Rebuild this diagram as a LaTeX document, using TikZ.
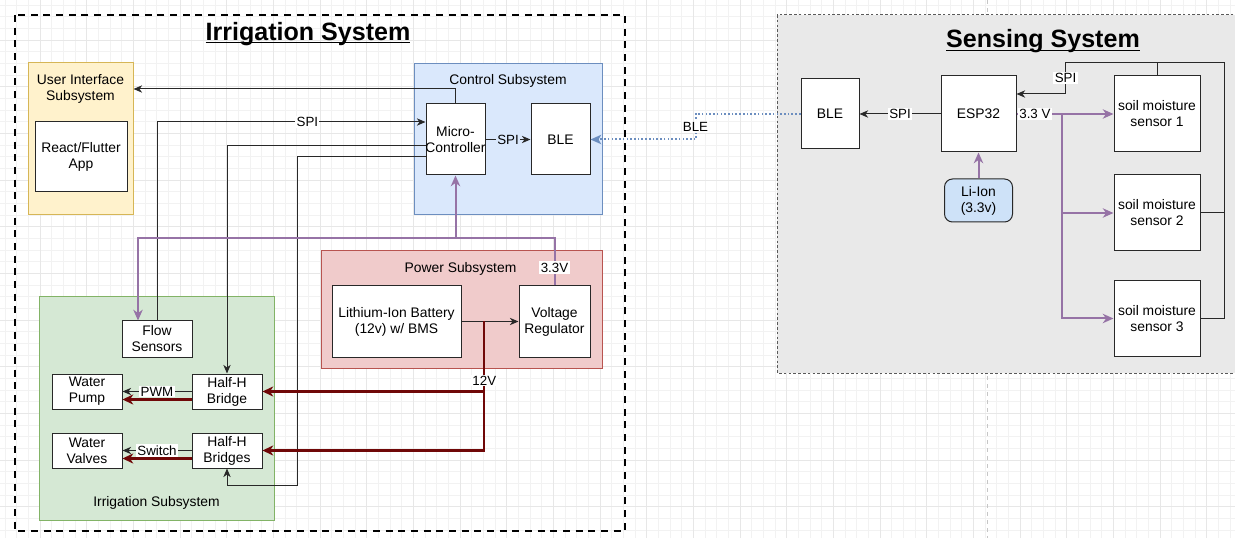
\documentclass[tikz,border=0pt]{standalone}
\usepackage{fontspec}
\setmainfont{Liberation Sans}
\usepackage{tikz}
\usetikzlibrary{arrows.meta,calc}
\definecolor{BoxLine}{RGB}{40,40,40}
\definecolor{UiFill} {HTML}{FFF2CC}
\definecolor{UiLine} {HTML}{D6B656}
\definecolor{CtlFill}{HTML}{DAE8FC}
\definecolor{CtlLine}{HTML}{6C8EBF}
\definecolor{PwrFill}{HTML}{F0CBCB}
\definecolor{PwrLine}{HTML}{B85450}
\definecolor{IrrFill}{HTML}{D5E8D4}
\definecolor{IrrLine}{HTML}{82B366}
\definecolor{SenFill}{RGB}{233,233,233}
\definecolor{LiFill} {RGB}{206,226,248}
\definecolor{VddLine}{HTML}{9673A6}
\definecolor{PwrWire}{RGB}{112,8,8}
\newcommand{\fsz}{\fontsize{10.4}{12}\selectfont}
\tikzset{
  nd_blk/.style={
    rectangle, draw=BoxLine, fill=white, line width=0.75pt,
    align=center, font=\fsz, inner sep=1pt},
  nd_li/.style={
    nd_blk, fill=LiFill, rounded corners=6pt},
  nd_sub/.style={
    rectangle, line width=0.75pt, inner sep=0pt},
  sub_ui/.style={nd_sub, draw=UiLine, fill=UiFill},
  sub_ctl/.style={nd_sub, draw=CtlLine, fill=CtlFill},
  sub_pwr/.style={nd_sub, draw=PwrLine, fill=PwrFill},
  sub_irr/.style={nd_sub, draw=IrrLine, fill=IrrFill},
  subttl/.style={font=\fsz, align=center, inner sep=1pt},
  ttl/.style={font=\fontsize{18.8}{22}\selectfont\bfseries, anchor=base},
  arr/.style={-{Stealth[length=6.5pt,width=5.5pt,inset=2pt]}, line width=0.75pt, BoxLine},
  arr_pwr/.style={-{Stealth[length=8pt,width=7.5pt,inset=2.4pt]}, line width=1.6pt, PwrWire},
  arr_v33/.style={-{Stealth[length=8pt,width=7pt,inset=2.4pt]}, line width=1.5pt, VddLine},
  arr_ble/.style={-{Stealth[length=8pt,width=7pt,inset=2pt]}, line width=1.5pt, CtlLine,
    dash pattern=on 1.2pt off 1.6pt},
  lbl/.style={font=\fontsize{10}{12}\selectfont, text=black, fill=white, inner sep=1pt},
  grid_mn/.style={gray!10, line width=0.4pt},
  grid_mj/.style={gray!19, line width=0.5pt},
}

\begin{document}
\begin{tikzpicture}[x=0.75pt,y=-0.75pt]
\useasboundingbox (0,0) rectangle (1235,538);
\clip (0,0) rectangle (1235,538);
\fill[white] (0,0) rectangle (1235,538);

%% background grid
\foreach \gx in {5,16.667,...,1235} \draw[grid_mn] (\gx,0) -- (\gx,538);
\foreach \gy in {5,16.667,...,538} \draw[grid_mn] (0,\gy) -- (1235,\gy);
\foreach \gx in {40,86.667,...,1235} \draw[grid_mj] (\gx,0) -- (\gx,538);
\foreach \gy in {40,86.667,...,538} \draw[grid_mj] (0,\gy) -- (1235,\gy);
\draw[gray!45, line width=0.6pt, dash pattern=on 3pt off 3pt] (987,0) -- (987,538);

%% Irrigation System
\draw[line width=1.5pt, dash pattern=on 5.3pt off 4.2pt] (15,15) rectangle (625,531);
\node[ttl] (TIrr) at (308,40.5) {\underline{\smash{Irrigation System}}};

\node[sub_ui, minimum width=78.75pt, minimum height=114pt] (UIS) at (80.5,139) {};
\node[subttl] (UIT) at ($(UIS.north)+(0,26)$) {User Interface\\Subsystem};
\node[nd_blk, minimum width=69pt, minimum height=52.5pt] (RA) at (81,157) {React/Flutter\\App};

\node[sub_ctl, minimum width=141pt, minimum height=113.25pt] (CS) at (508,139.5) {};
\node[subttl] (CST) at ($(CS.north)+(0,17)$) {Control Subsystem};
\node[nd_blk, minimum width=44.25pt, minimum height=53.25pt] (MC) at (455.5,139.5) {Micro-\\\makebox[0pt]{Controller}};
\node[nd_blk, minimum width=44.25pt, minimum height=53.25pt] (BLEc) at (560.5,139.5) {BLE};

\node[sub_pwr, minimum width=210.75pt, minimum height=87.75pt] (PS) at (461.5,309.5) {};
\node[subttl] (PST) at ($(PS.north)+(-1,18)$) {Power Subsystem};
\node[nd_blk, minimum width=96.75pt, minimum height=53.25pt] (BAT) at (396.5,321.5) {Lithium-Ion Battery\\(12v) w/ BMS};
\node[nd_blk, minimum width=53.25pt, minimum height=53.25pt] (VR) at (554.5,321.5) {Voltage\\Regulator};

\node[sub_irr, minimum width=176.25pt, minimum height=167.25pt] (IS) at (156.5,408.5) {};
\node[subttl] (IST) at ($(IS.south)+(0,-18)$) {Irrigation Subsystem};
\node[nd_blk, minimum width=52.5pt, minimum height=27pt] (FS) at (157,339) {Flow\\Sensors};
\node[nd_blk, minimum width=52.5pt, minimum height=26.25pt] (WP) at (87,391.5) {Water\\Pump};
\node[nd_blk, minimum width=52.5pt, minimum height=26.25pt] (HB1) at (227,391.5) {Half-H\\Bridge};
\node[nd_blk, minimum width=52.5pt, minimum height=26.25pt] (WV) at (87,450.5) {Water\\Valves};
\node[nd_blk, minimum width=52.5pt, minimum height=26.25pt] (HB2) at (227,450.5) {Half-H\\Bridges};

%% Sensing System
\draw[gray!70!black, fill=SenFill, line width=0.75pt, dash pattern=on 2pt off 1.6pt] (777,15) rectangle (1240,373);
\node[ttl] (TSen) at (1043,48) {\underline{\smash{Sensing System}}};
\node[nd_blk, minimum width=43.5pt, minimum height=52.5pt] (BLEs) at (830,114) {BLE};
\node[nd_blk, minimum width=56.25pt, minimum height=57pt] (ESP) at (978.5,114) {ESP32};
\node[nd_li, minimum width=51pt, minimum height=32.25pt] (LI) at (978.5,200.5) {Li-Ion\\(3.3v)};
\node[nd_blk, minimum width=64.5pt, minimum height=57pt] (SM1) at (1157,114) {soil moisture\\sensor 1};
\node[nd_blk, minimum width=64.5pt, minimum height=57pt] (SM2) at (1157,213) {soil moisture\\sensor 2};
\node[nd_blk, minimum width=64.5pt, minimum height=57pt] (SM3) at (1157,318.5) {soil moisture\\sensor 3};

%% control links
\draw[arr] (MC.north) |- ($(UIS.east)+(0,-50)$);
\draw[arr] (MC) -- node[lbl, fill=CtlFill]{SPI} (BLEc);
\draw[arr] (FS.north) |- node[lbl, pos=0.78]{SPI} ($(MC.west)+(0,-17.5)$);
\draw[arr] ($(MC.west)+(0,6.5)$) -| (HB1.north);
\coordinate (HBret) at ($(HB2.south)+(70,17)$);
\draw[arr] ($(MC.west)+(0,17.5)$) -| (HBret) -| (HB2.south);

%% 3.3V bus
\coordinate (Bus) at (0,238);
\coordinate (J33) at (MC.south |- Bus);
\draw[arr_v33] (VR.north) |- (J33) -| ($(FS.north)+(-19,0)$);
\draw[arr_v33] (J33) -- (MC.south);
\node[lbl] (L33) at ($(VR.north)+(0,-18)$) {3.3V};

%% 12V
\draw[arr] (BAT) -- (VR);
\coordinate (J12) at ($(BAT.east)!0.4!(VR.west)$);
\draw[arr_pwr] (J12) |- (HB1.east);
\draw[arr_pwr] (J12) |- (HB2.east);
\node[lbl] (L12) at ($(J12)+(0,59)$) {12V};

%% drivers
\draw[arr] (HB1.west) -- node[lbl]{PWM} (WP.east);
\draw[arr_pwr] ($(HB1.west)+(0,8)$) -- ($(WP.east)+(0,8)$);
\draw[arr] (HB2.west) -- node[lbl]{Switch} (WV.east);
\draw[arr_pwr] ($(HB2.west)+(0,8)$) -- ($(WV.east)+(0,8)$);

%% BLE link
\coordinate (BLEmid) at ($(BLEc.east)!0.5!(BLEs.west)$);
\draw[arr_ble] (BLEs.west) -| (BLEmid |- BLEc.east) -- (BLEc.east);
\node[lbl] (LB) at (BLEmid) {BLE};

%% sensing links
\draw[arr] (ESP.west) -- node[lbl]{SPI} (BLEs.east);
\draw[arr_v33] (LI) -- (ESP);
\draw[arr_v33] (ESP.east) -- node[lbl, pos=0.19]{3.3 V} (SM1.west);
\coordinate (J3) at ($(ESP.east)!0.47!(SM1.west)$);
\draw[arr_v33] (J3) |- (SM2.west);
\draw[arr_v33] (J3) |- (SM3.west);

\coordinate (SpR) at ($(SM1.north east)+(24,-13)$);
\coordinate (SpL) at ($(ESP.north east)+(49,-13)$);
\draw[arr] (SM3.east) -| (SpR) -- (SpL) |- node[lbl, pos=0.25]{SPI} ($(ESP.east)+(0,-20)$);
\draw[line width=0.75pt, BoxLine] (SM2.east) -- (SM2.east -| SpR);
\draw[line width=0.75pt, BoxLine] (SM1.north) -- (SM1.north |- SpR);

\end{tikzpicture}
\end{document}
